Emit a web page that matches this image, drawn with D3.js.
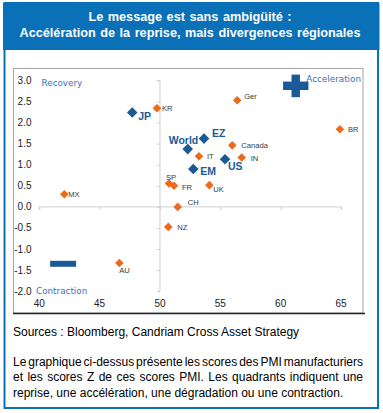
<!DOCTYPE html>
<html>
<head>
<meta charset="utf-8">
<script src="https://cdn.jsdelivr.net/npm/d3@7"></script>
<style>
  html, body { margin: 0; padding: 0; background: #fff; }
  #wrap { position: relative; width: 383px; height: 413px; }
  svg { position: absolute; left: 0; top: 0; }
</style>
</head>
<body>
<div id="wrap"></div>
<script>
// ---- data ----
const countries = ["KR", "MX", "AU", "SP", "FR", "CH", "NZ", "UK", "Ger", "BR", "Canada", "IT", "IN"];
const countryPMI = [49.75, 42.07, 46.63, 50.75, 51.16, 51.47, 50.69, 54.09, 56.4, 64.91, 55.99, 53.23, 56.77];
const countryZ   = [2.34, 0.30, -1.33, 0.555, 0.50, 0.0, -0.475, 0.515, 2.53, 1.84, 1.46, 1.20, 1.17];

const regions = ["JP", "World", "EZ", "US", "EM"];
const regionPMI = [47.7, 52.3, 53.65, 55.39, 52.76];
const regionZ   = [2.24, 1.37, 1.62, 1.13, 0.90];

const xTicks = [40, 45, 50, 55, 60, 65];
const yTicks = [-2.0, -1.5, -1.0, -0.5, 0.0, 0.5, 1.0, 1.5, 2.0, 2.5, 3.0];

const titleLines = ["Le message est sans ambigüité :", "Accélération de la reprise, mais divergences régionales"];
const quadrantLabels = ["Recovery", "Acceleration", "Contraction"];
const sourceText = "Sources : Bloomberg, Candriam Cross Asset Strategy";
const paragraphLines = [
  "Le graphique ci-dessus présente les scores des PMI manufacturiers",
  "et les scores Z de ces scores PMI. Les quadrants indiquent une",
  "reprise, une accélération, une dégradation ou une contraction."
];

// ---- label layout (offsets in px, not data) ----
const countryLabelOffset = {
  KR: [5, 3, "start"], MX: [4, 3, "start"], AU: [0, 10, "start"], SP: [-3, -3, "start"],
  FR: [8, 4, "start"], CH: [10, -2, "start"], NZ: [9, 3, "start"], UK: [4, 7, "start"],
  Ger: [7, -1, "start"], BR: [8, 3, "start"], Canada: [9, 3, "start"], IT: [8, 3, "start"], IN: [9, 3, "start"]
};
const regionLabelOffset = {
  JP: [6, 8], World: [-19, -5], EZ: [8, -2], US: [3, 11], EM: [7, 6]
};

// ---- styles ----
const ORANGE = "#ec6a1c";
const DBLUE = "#1b5a96";
const FRAMEBLUE = "#0a70b7";
const QBLUE = "#3674b8";
const FONT = "'Liberation Sans', Arial, sans-serif";

const W = 383, H = 413;
const wrap = d3.select("#wrap");
const svg = wrap.append("svg").attr("width", W).attr("height", H);

// outer frame
svg.append("rect").attr("x", 4.5).attr("y", 3).attr("width", 373.5).attr("height", 405)
  .attr("fill", "none").attr("stroke", FRAMEBLUE).attr("stroke-width", 2);
svg.append("rect").attr("x", 3).attr("y", 3).attr("width", 376.5).attr("height", 47).attr("fill", FRAMEBLUE);

svg.selectAll("text.title").data(titleLines).join("text")
  .attr("class", "title")
  .attr("x", 190).attr("y", (d, i) => 20.5 + i * 16.5)
  .attr("text-anchor", "middle").attr("fill", "#fff")
  .attr("font-family", FONT).attr("font-weight", "bold").attr("font-size", 12.7)
  .attr("word-spacing", 1)
  .text(d => d);

// chart box
svg.append("rect").attr("x", 13.5).attr("y", 68.5).attr("width", 349.5).attr("height", 244.5)
  .attr("fill", "#fff").attr("stroke", "#a6a6a6").attr("stroke-width", 1);
svg.append("line").attr("x1", 13).attr("x2", 365).attr("y1", 313.5).attr("y2", 313.5)
  .attr("stroke", "#222").attr("stroke-width", 1.5);

// scales
const x = d3.scaleLinear().domain([40, 65]).range([39.3, 341]);
const y = d3.scaleLinear().domain([-2, 3]).range([291.2, 80.4]);

// x axis at y=0
const xAxis = svg.append("g").attr("transform", `translate(0,${y(0)})`)
  .call(d3.axisBottom(x).tickValues(xTicks).tickSize(3).tickFormat(""));
xAxis.select(".domain").attr("stroke", "#cfcfcf").attr("d", `M${x(40)},3V0H${x(65)}V3`);
xAxis.selectAll(".tick line").attr("stroke", "#cfcfcf");

// y axis at x=50
const yAxis = svg.append("g").attr("transform", `translate(${x(50)},0)`)
  .call(d3.axisLeft(y).tickValues(yTicks).tickSize(3).tickFormat(""));
yAxis.select(".domain").attr("stroke", "#cfcfcf").attr("d", `M-3,${y(3)}H0V${y(-2)}H-3`);
yAxis.selectAll(".tick line").attr("stroke", "#cfcfcf");

// tick labels
svg.selectAll("text.xt").data(xTicks).join("text").attr("class", "xt")
  .attr("x", d => x(d)).attr("y", 306.5).attr("text-anchor", "middle")
  .attr("font-family", FONT).attr("font-size", 10).attr("fill", "#222").text(d => d);
svg.selectAll("text.yt").data(yTicks).join("text").attr("class", "yt")
  .attr("x", 31.5).attr("y", d => y(d) + 3.5).attr("text-anchor", "end")
  .attr("font-family", FONT).attr("font-size", 10).attr("fill", "#222").text(d => d.toFixed(1));

// quadrant labels
const qPos = [[41.5, 86, "start"], [361, 81.5, "end"], [36, 293.5, "start"]];
svg.selectAll("text.q").data(quadrantLabels).join("text").attr("class", "q")
  .attr("x", (d, i) => qPos[i][0]).attr("y", (d, i) => qPos[i][1])
  .attr("text-anchor", (d, i) => qPos[i][2])
  .attr("font-family", "'DejaVu Sans', sans-serif").attr("font-size", 8.8).attr("fill", QBLUE)
  .text(d => d);

// plus (acceleration) and minus (contraction) icons
const plusC = [61.25, 2.87];
const px = x(plusC[0]), py = y(plusC[1]);
svg.append("rect").attr("x", px - 12.7).attr("y", py - 4.3).attr("width", 25.4).attr("height", 8.4).attr("fill", DBLUE);
svg.append("rect").attr("x", px - 4.2).attr("y", py - 11.3).attr("width", 8.4).attr("height", 22.6).attr("fill", DBLUE);
const minusC = [[40.9, 43.05], -1.35];
svg.append("rect").attr("x", x(minusC[0][0])).attr("y", y(minusC[1]) - 3)
  .attr("width", x(minusC[0][1]) - x(minusC[0][0])).attr("height", 6).attr("fill", DBLUE);

// diamonds
const diamond = r => `M0,${-r}L${r},0L0,${r}L${-r},0Z`;

const cData = countries.map((c, i) => ({ name: c, px: countryPMI[i], z: countryZ[i] }));
const rData = regions.map((c, i) => ({ name: c, px: regionPMI[i], z: regionZ[i] }));

svg.selectAll("path.c").data(cData).join("path").attr("class", "c")
  .attr("transform", d => `translate(${x(d.px)},${y(d.z)})`)
  .attr("d", diamond(4.3)).attr("fill", ORANGE);
svg.selectAll("text.cl").data(cData).join("text").attr("class", "cl")
  .attr("x", d => x(d.px) + countryLabelOffset[d.name][0])
  .attr("y", d => y(d.z) + countryLabelOffset[d.name][1])
  .attr("text-anchor", d => countryLabelOffset[d.name][2])
  .attr("font-family", FONT).attr("font-size", 7.6).attr("fill", "#3a3a3a")
  .text(d => d.name);

svg.selectAll("path.r").data(rData).join("path").attr("class", "r")
  .attr("transform", d => `translate(${x(d.px)},${y(d.z)})`)
  .attr("d", diamond(5.3)).attr("fill", DBLUE);
svg.selectAll("text.rl").data(rData).join("text").attr("class", "rl")
  .attr("x", d => x(d.px) + regionLabelOffset[d.name][0])
  .attr("y", d => y(d.z) + regionLabelOffset[d.name][1])
  .attr("font-family", FONT).attr("font-weight", "bold").attr("font-size", 10.5).attr("fill", DBLUE)
  .text(d => d.name);

// footer
svg.append("text").attr("x", 13).attr("y", 336)
  .attr("font-family", FONT).attr("font-size", 12).attr("fill", "#000").text(sourceText);

const paraW = 350;
svg.selectAll("text.para").data(paragraphLines).join("text").attr("class", "para")
  .attr("x", 13).attr("y", (d, i) => 366 + i * 15.4)
  .attr("font-family", FONT).attr("font-size", 12).attr("fill", "#000")
  .text(d => d)
  .each(function(d, i) {
    if (i === paragraphLines.length - 1) return;
    const w = this.getComputedTextLength();
    const spaces = (d.match(/ /g) || []).length;
    d3.select(this).attr("word-spacing", (paraW - w) / spaces);
  });
</script>
</body>
</html>
